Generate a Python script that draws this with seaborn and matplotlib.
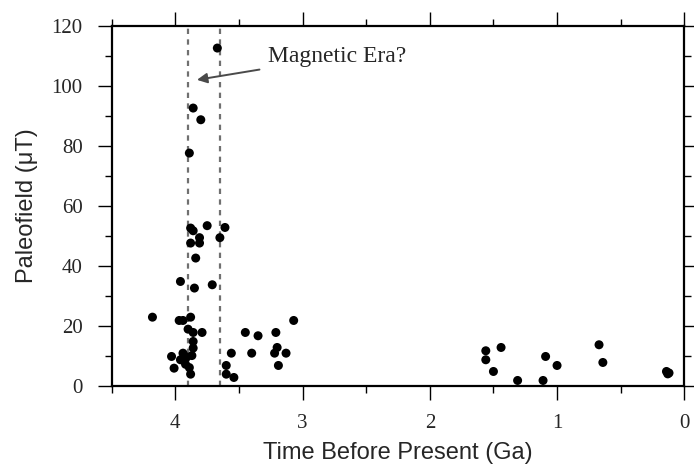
import matplotlib
matplotlib.use("Agg")
import matplotlib.pyplot as plt
from matplotlib.ticker import MultipleLocator
import pandas as pd
import seaborn as sns

# age (Ga before present) and paleointensity (uT)
age = [3.67, 3.86, 3.80, 3.89,
       3.88, 3.86, 3.75, 3.61, 3.81, 3.65, 3.88, 3.81, 3.84,
       3.96, 3.71, 3.85,
       4.18, 3.97, 3.94, 3.88, 3.07,
       3.90, 3.86, 3.79, 3.45, 3.35, 3.21,
       3.86, 3.86, 3.20,
       4.03, 4.01, 3.96, 3.94, 3.92, 3.89, 3.88, 3.87, 3.91,
       3.56, 3.60, 3.60, 3.54, 3.40, 3.22, 3.13, 3.19,
       1.56, 1.56, 1.44, 1.50, 1.31, 1.11, 1.09, 1.00, 0.67, 0.64,
       0.14, 0.12, 0.13]
field = [112.6, 92.6, 88.7, 77.6,
         52.6, 51.7, 53.4, 52.8, 49.4, 49.4, 47.6, 47.6, 42.6,
         34.8, 33.7, 32.6,
         22.9, 21.8, 21.8, 22.9, 21.8,
         18.9, 17.8, 17.8, 17.8, 16.7, 17.8,
         14.8, 12.6, 12.8,
         9.8, 5.9, 8.7, 10.9, 7.2, 6.1, 3.9, 10.1, 9.6,
         10.9, 6.8, 3.9, 2.8, 10.9, 10.9, 10.9, 6.8,
         11.7, 8.7, 12.8, 4.8, 1.8, 1.8, 9.8, 6.8, 13.7, 7.8,
         4.8, 4.3, 4.0]
era_bounds = [3.9, 3.65]

df = pd.DataFrame({"age": age, "field": field})

sns.set_style("ticks")
plt.rcParams["font.family"] = ["Liberation Serif", "DejaVu Serif"]

fig = plt.figure(figsize=(6.94, 4.70), dpi=100)
ax = fig.add_axes([0.161, 0.179, 0.825, 0.766])

for b in era_bounds:
    ax.axvline(b, color="#707070", lw=1.6, ls=(0, (2.4, 2.4)), zorder=1)

sns.scatterplot(data=df, x="age", y="field", color="black", s=42,
                edgecolor="none", ax=ax, zorder=3)

ax.set_xlim(4.5, 0)
ax.set_ylim(0, 120)
ax.xaxis.set_major_locator(MultipleLocator(1))
ax.xaxis.set_minor_locator(MultipleLocator(0.5))
ax.yaxis.set_major_locator(MultipleLocator(20))
ax.yaxis.set_minor_locator(MultipleLocator(10))
ax.tick_params(which="both", direction="out", top=True, right=True,
               color="black", width=1)
ax.tick_params(which="major", length=10, labelsize=15)
ax.tick_params(axis="x", which="major", pad=10)
ax.tick_params(axis="y", which="major", pad=11)
ax.tick_params(which="minor", length=5)
for sp in ax.spines.values():
    sp.set_linewidth(1.6)
    sp.set_color("black")

ax.set_xlabel("Time Before Present (Ga)", family=["Liberation Sans", "DejaVu Sans"],
              fontsize=17, labelpad=7)
ax.set_ylabel("Paleofield (μT)", family=["Liberation Sans", "DejaVu Sans"],
              fontsize=17, labelpad=10)

ax.annotate("Magnetic Era?", xy=(3.83, 102), xytext=(3.27, 109.7),
            fontsize=17, ha="left", va="center",
            arrowprops=dict(arrowstyle="-|>", color="#4a4a4a", lw=1.4,
                            mutation_scale=15, shrinkA=4, shrinkB=0))

fig.savefig("out.png", dpi=100)
